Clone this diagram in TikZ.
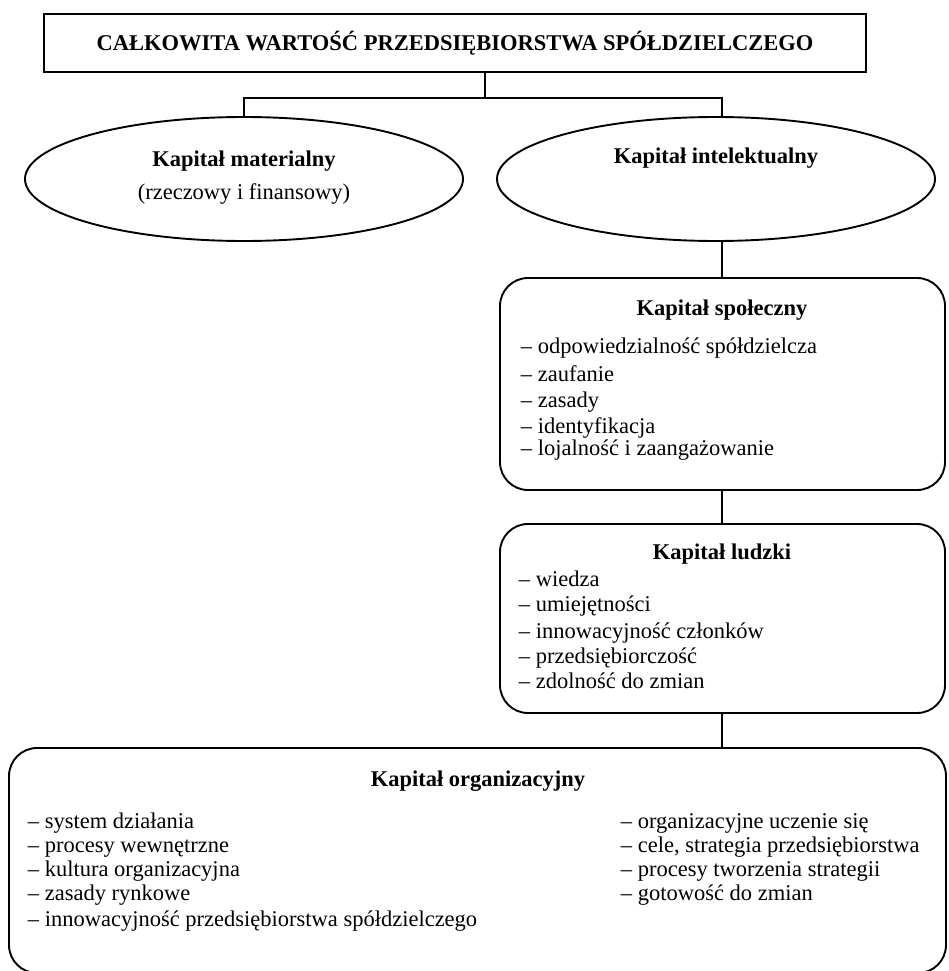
\documentclass[tikz,border=0pt]{standalone}
\usepackage{fontspec}
\setmainfont{Liberation Serif}
\usetikzlibrary{shapes.geometric}

\newcommand{\bodyfont}{\fontsize{22.5}{26}\selectfont}

\begin{document}
\begin{tikzpicture}[x=1pt,y=-1pt,
  line width=1.9pt,
  item/.style={font=\bodyfont, inner sep=0pt, anchor=base west},
  ttl/.style={font=\bodyfont\bfseries, inner sep=0pt, anchor=base},
  plain/.style={font=\bodyfont, inner sep=0pt, anchor=base},
  capbox/.style={draw, rounded corners=28pt},
  ell/.style={draw, ellipse, inner sep=0pt, minimum width=438pt, minimum height=124pt}
]
\useasboundingbox (0,0) rectangle (948,971);

% heading box
\draw (44,14) rectangle (866,72);
\node[ttl] (tbt) at (455,51) {CAŁKOWITA WARTOŚĆ PRZEDSIĘBIORSTWA SPÓŁDZIELCZEGO};
\coordinate (tbS) at (485,72);

% ellipses
\node[ell] (em) at (244,179) {};
\node[ell] (ei) at (716,179) {};
\node[ttl] (emt) at (244,166) {Kapitał materialny};
\node[plain] (ems) at (244,199) {(rzeczowy i finansowy)};
\node[ttl] (eit) at (716,163) {Kapitał intelektualny};

% rounded boxes
\draw[capbox] (500,278) rectangle (945,490);
\coordinate (sN) at (722,278);
\coordinate (sS) at (722,490);
\draw[capbox] (500,524) rectangle (945,713);
\coordinate (hN) at (722,524);
\coordinate (hS) at (722,713);
\draw[capbox] (9,748) rectangle (946,973);
\coordinate (oN) at (722,748);

% social capital
\node[ttl] (st) at (722,315) {Kapitał społeczny};
\node[item] (s1) at (520,353) {– odpowiedzialność spółdzielcza};
\node[item] (s2) at (520,381) {– zaufanie};
\node[item] (s3) at (520,407) {– zasady};
\node[item] (s4) at (520,433) {– identyfikacja};
\node[item] (s5) at (520,455) {– lojalność i zaangażowanie};

% human capital
\node[ttl] (ht) at (722,559) {Kapitał ludzki};
\node[item] (h1) at (518,586) {– wiedza};
\node[item] (h2) at (518,611) {– umiejętności};
\node[item] (h3) at (518,638) {– innowacyjność członków};
\node[item] (h4) at (518,663) {– przedsiębiorczość};
\node[item] (h5) at (518,688) {– zdolność do zmian};

% organisational capital
\node[ttl] (ot) at (478,786) {Kapitał organizacyjny};
\node[item] (o1) at (27,828) {– system działania};
\node[item] (o2) at (27,852) {– procesy wewnętrzne};
\node[item] (o3) at (27,876) {– kultura organizacyjna};
\node[item] (o4) at (27,900) {– zasady rynkowe};
\node[item] (o5) at (27,926) {– innowacyjność przedsiębiorstwa spółdzielczego};
\node[item] (o6) at (620,828) {– organizacyjne uczenie się};
\node[item] (o7) at (620,852) {– cele, strategia przedsiębiorstwa};
\node[item] (o8) at (620,876) {– procesy tworzenia strategii};
\node[item] (o9) at (620,900) {– gotowość do zmian};

% connectors
\coordinate (bar) at (485,98);
\draw (tbS) -- (bar);
\draw (em.north) -- (em.north |- bar) -- (sN |- bar) -- (sN |- ei.north);
\draw (sN |- ei.south) -- (sN);
\draw (sS) -- (hN);
\draw (hS) -- (oN);
\end{tikzpicture}
\end{document}
